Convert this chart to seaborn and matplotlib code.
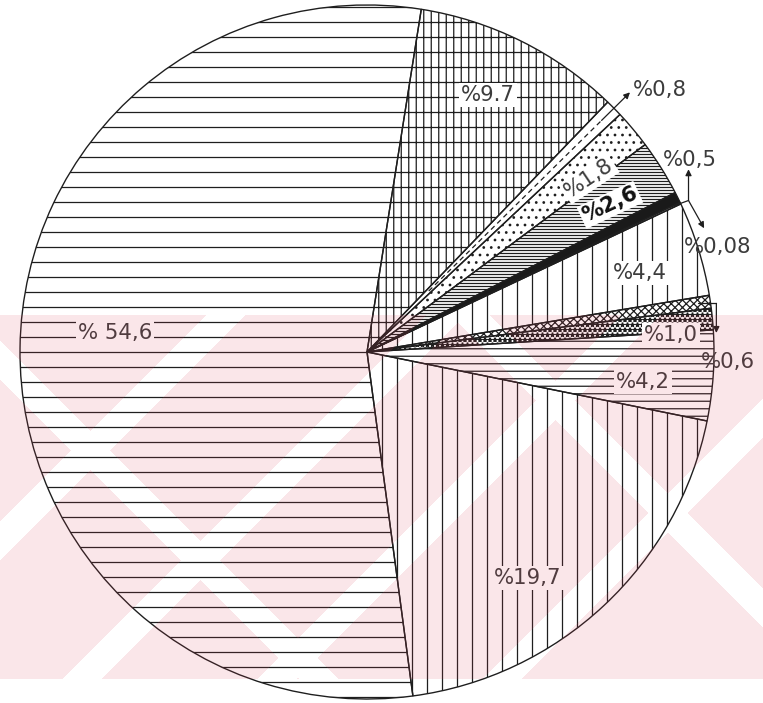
import numpy as np
import matplotlib
matplotlib.use("Agg")
import matplotlib.pyplot as plt
import seaborn as sns

# ---------------------------------------------------------
# data (slices clockwise, starting at the top)
# ---------------------------------------------------------
shares = [9.7, 0.8, 1.8, 2.6, 0.5, 0.08, 4.4, 0.6, 1.0, 4.2, 19.7, 54.6]
label_texts = ["%9.7", "%0,8", "%1,8", "%2,6", "%0,5", "%0,08",
               "%4,4", "%0,6", "%1,0", "%4,2", "%19,7", "% 54,6"]

# ---------------------------------------------------------
# style
# ---------------------------------------------------------
hatches = ["||-", "", "..", "-----", "", "", "|", "xxxx", "***", "--", "|", "-"]
faces = ["none"] * len(shares)
faces[4] = "#1a1a1a"          # the thin black slice

# label anchors in axes units (pie radius = 1): x, y, rotation, bold, box
label_style = {
    "% 54,6": (-0.726, 0.055, 0, False, True),
    "%9.7":   (0.349, 0.741, 0, False, True),
    "%0,8":   (0.845, 0.755, 0, False, False),
    "%1,8":   (0.640, 0.500, 34, False, True),
    "%2,6":   (0.700, 0.424, 25, True, True),
    "%0,5":   (0.931, 0.553, 0, False, False),
    "%0,08":  (1.012, 0.303, 0, False, False),
    "%4,4":   (0.787, 0.228, 0, False, True),
    "%1,0":   (0.875, 0.049, 0, False, True),
    "%0,6":   (1.040, -0.029, 0, False, False),
    "%4,2":   (0.795, -0.086, 0, False, True),
    "%19,7":  (0.464, -0.651, 0, False, True),
}

W_PX, H_PX, DPI = 763, 703, 90
INK = "#1e1e1e"
TXT = "#3c3c3c"

sns.set_theme(style="white")
plt.rcParams["font.family"] = ["DejaVu Sans"]
plt.rcParams["hatch.linewidth"] = 1.0


def polar(r, deg):
    t = np.deg2rad(deg)
    return np.array([r * np.cos(t), r * np.sin(t)])


fig = plt.figure(figsize=(W_PX / DPI, H_PX / DPI), dpi=DPI)
fig.patch.set_facecolor("white")

# pie centre ~ (367, 352) px, radius ~ 347 px
R = 347
cx, cy = 367, 352
ax = fig.add_axes([(cx - R) / W_PX, (H_PX - cy - R) / H_PX, 2 * R / W_PX, 2 * R / H_PX])

wedges, _ = ax.pie(shares, startangle=81, counterclock=False, colors=faces,
                   wedgeprops=dict(edgecolor=INK, linewidth=1.1))
for w, h in zip(wedges, hatches):
    w.set_hatch(h)
ax.set_xlim(-1, 1)
ax.set_ylim(-1, 1)
ax.set_aspect("equal")
ax.axis("off")

# dashed centre line of the 0.8 slice
w08 = wedges[1]
mid08 = (w08.theta1 + w08.theta2) / 2
p0, p1 = polar(0.25, mid08), polar(0.95, mid08)
ax.plot([p0[0], p1[0]], [p0[1], p1[1]], color=INK, lw=1.0, ls=(0, (4, 3)))

# labels
for txt in label_texts:
    x, y, rot, bold, box = label_style[txt]
    kw = dict(ha="center", va="center", rotation=rot, fontsize=17,
              color="#111111" if bold else TXT,
              fontweight="bold" if bold else "normal", zorder=4)
    if box:
        kw["bbox"] = dict(facecolor="white", edgecolor="none", pad=1.5)
    ax.text(x, y, txt, **kw)

arrow = dict(arrowstyle="-|>", color=INK, lw=1.0, mutation_scale=10,
             shrinkA=0, shrinkB=0)

# 0.8 arrow
a = polar(0.95, mid08)
b = polar(1.065, mid08)
ax.annotate("", xy=b, xytext=a, arrowprops=arrow, annotation_clip=False)

# 0.5 / 0.08 arrows from their common edge
s = polar(0.966, (wedges[4].theta1 + wedges[5].theta2) / 2)
corner = s + np.array([0.055, 0.02])
ax.plot([s[0], corner[0]], [s[1], corner[1]], color=INK, lw=1.0, clip_on=False)
ax.annotate("", xy=corner + np.array([0, 0.09]), xytext=corner,
            arrowprops=arrow, annotation_clip=False)
ax.annotate("", xy=corner + np.array([0.045, -0.08]), xytext=corner,
            arrowprops=arrow, annotation_clip=False)

# 0.6 arrow
w06 = wedges[7]
s = polar(0.965, (w06.theta1 + w06.theta2) / 2)
corner = s + np.array([0.052, 0.0])
ax.plot([s[0], corner[0]], [s[1], corner[1]], color=INK, lw=1.0, clip_on=False)
ax.annotate("", xy=corner + np.array([0, -0.085]), xytext=corner,
            arrowprops=arrow, annotation_clip=False)

# pink scan watermark (band with white diagonal gaps), laid over the drawing
yy, xx = np.mgrid[0:H_PX, 0:W_PX]
band = (yy >= 315) & (yy <= 678)
gap = np.zeros_like(band)
for c in [540, 760, 955, 1180]:
    gap |= np.abs(xx + yy - c) < 20
for c in [-360, 155]:
    gap |= np.abs(xx - yy - c) < 20
rgba = np.zeros((H_PX, W_PX, 4))
rgba[..., 0], rgba[..., 1], rgba[..., 2] = 0.86, 0.25, 0.35
rgba[..., 3] = 0.13 * (band & ~gap)

wm = fig.add_axes([0, 0, 1, 1], zorder=5)
wm.imshow(rgba, extent=(0, W_PX, H_PX, 0), aspect="auto", interpolation="nearest")
wm.set_xlim(0, W_PX)
wm.set_ylim(H_PX, 0)
wm.patch.set_alpha(0)
wm.axis("off")

fig.savefig("out.png", dpi=DPI)
